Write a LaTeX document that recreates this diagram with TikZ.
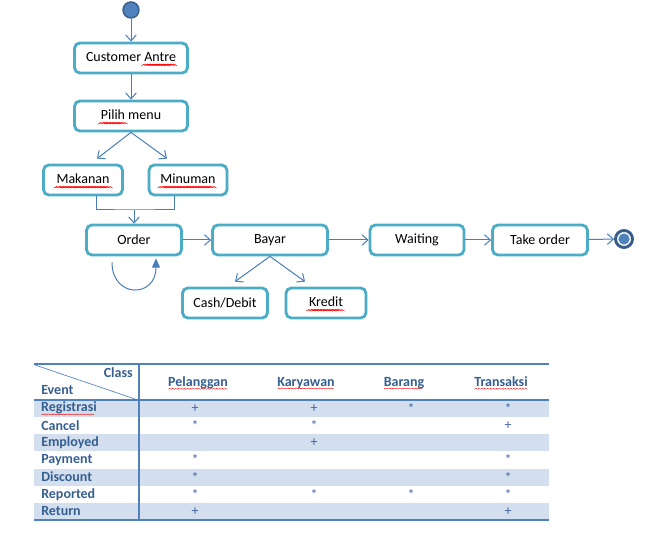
\documentclass[tikz,border=0pt]{standalone}
\usepackage{fontspec}
\setmainfont{Carlito}
\usetikzlibrary{arrows.meta}
\newcommand\wavebit{\hbox to 2.2pt{\rlap{\begin{pgfpicture}\pgfsetlinewidth{0.3pt}\pgfsetstrokecolor{red}\pgfpathmoveto{\pgfpoint{0pt}{0pt}}\pgfpathlineto{\pgfpoint{1.1pt}{0.65pt}}\pgfpathlineto{\pgfpoint{2.2pt}{0pt}}\pgfusepath{stroke}\end{pgfpicture}}\hss}}
\newcommand\spell[1]{\setbox0=\hbox{#1}\rlap{\raisebox{-2.3pt}{\leaders\wavebit\hskip\wd0}}\box0\relax}
\definecolor{boxline}{HTML}{4BACC6}
\definecolor{arrowblue}{HTML}{4A7EBB}
\definecolor{dotfill}{HTML}{4F81BD}
\definecolor{dotline}{HTML}{385D8A}
\definecolor{band}{HTML}{D3DFEE}
\definecolor{tabline}{HTML}{4F81BD}
\definecolor{tabtext}{HTML}{365F91}
\definecolor{marktext}{HTML}{4264A8}
\def\u{0.75pt}
\tikzset{
  act/.style={draw=boxline,line width=2.1pt,rounded corners=4pt,fill=white,minimum height=30*\u,inner sep=0pt},
  flow/.style={draw=arrowblue,line width=0.75pt,-{Straight Barb[length=4.5pt,width=8pt]}},
  lab/.style={font=\fontsize{10.5}{12.6}\selectfont\bfseries,text=tabtext,inner sep=0pt},
  cell/.style={font=\fontsize{10.5}{12.6}\selectfont,text=marktext,inner sep=0pt}
}
\begin{document}
\begin{tikzpicture}[x=0.75pt,y=-0.75pt,every node/.append style={font=\fontsize{10.5}{12.6}\selectfont}]
\useasboundingbox (0,0) rectangle (650,534);
\def\ty{400}
\def\rh{17.14}
\node[circle,fill=dotfill,draw=dotline,line width=1.1pt,minimum size=16*\u,inner sep=0pt] (start) at (131,10) {};
\node[act,minimum width=113*\u] (cust) at (131,58) {Customer \spell{Antre}};
\node[act,minimum width=113*\u] (pilih) at (131,116) {\spell{Pilih} menu};
\node[act,minimum width=79*\u] (makan) at (83,180) {\spell{Makanan}};
\node[act,minimum width=78*\u] (minum) at (188,180) {\spell{Minuman}};
\node[act,minimum width=95*\u] (order) at (134,240) {Order};
\node[act,minimum width=115*\u] (bayar) at (270,240) {Bayar};
\node[act,minimum width=94*\u] (wait) at (417,240) {Waiting};
\node[act,minimum width=95*\u] (take) at (540,240) {Take order};
\node[act,minimum width=85*\u] (cash) at (225,303) {Cash/Debit};
\node[act,minimum width=80*\u] (kredit) at (326,303) {\spell{Kredit}};
\node[circle,draw=dotline,line width=2.2pt,fill=white,minimum size=17*\u,inner sep=0pt] (stop) at (624,239) {};
\fill[dotfill] (stop) circle[radius=4.2pt];
\coordinate (merge) at (134,210);
\draw[flow] (start) -- (cust);
\draw[flow] (cust) -- (pilih);
\draw[flow] (pilih.south) -- ([shift={(14,-5)}]makan.north);
\draw[flow] (pilih.south) -- ([shift={(-21,-5)}]minum.north);
\draw[arrowblue,line width=0.75pt] ([xshift=13*\u]makan.south) |- (merge) -| ([xshift=-14*\u]minum.south);
\draw[flow] (merge) -- (order);
\draw[flow] (order) -- (bayar);
\draw[arrowblue,line width=0.75pt,-{Triangle[length=7pt,width=6pt]}] ([shift={(-22,6)}]order.south) .. controls +(0,36) and +(0,40) .. ([shift={(22,2)}]order.south);
\draw[flow] (bayar) -- (wait);
\draw[flow] (wait) -- (take);
\draw[flow] (take) -- (stop);
\draw[flow] (bayar.south) -- ([shift={(10,-5)}]cash.north);
\draw[flow] (bayar.south) -- ([shift={(-21,-5)}]kredit.north);
\foreach \ev/\pa/\pb/\pc/\pd [count=\i] in {\spell{Registrasi}/+/+/*/*,Cancel/*/*//+,Employed//+//,Payment/*///*,Discount/*///*,Reported/*/*/*/*,Return/+///+}
{
\pgfmathsetmacro\yc{\ty+(\i-0.5)*\rh}
\ifodd\i \fill[band] (34,{\ty+(\i-1)*\rh}) rectangle (549,{\ty+\i*\rh}); \fi
\node[lab,anchor=west] (ev\i) at (41,\yc) {\ev};
\node[cell] (pa\i) at (195,\yc) {\pa};
\node[cell] (pb\i) at (314,\yc) {\pb};
\node[cell] (pc\i) at (411,\yc) {\pc};
\node[cell] (pd\i) at (508,\yc) {\pd};
}
\node[lab,anchor=east] (cls) at (133,373) {Class};
\node[lab,anchor=west] (evt) at (41,390) {Event};
\node[lab] (pel) at (198,383) {\spell{Pelanggan}};
\node[lab] (kar) at (306,383) {\spell{Karyawan}};
\node[lab] (bar) at (404,383) {\spell{Barang}};
\node[lab] (tra) at (501,383) {\spell{Transaksi}};
\draw[tabline,line width=1pt] (34,364) -- (549,364);
\draw[tabline,line width=1pt] (34,400) -- (549,400);
\draw[tabline,line width=1pt] (34,520) -- (549,520);
\draw[tabline,line width=1pt] (139,364) -- (139,520);
\draw[tabline,line width=0.5pt] (35,365) -- (138,400);
\end{tikzpicture}
\end{document}
